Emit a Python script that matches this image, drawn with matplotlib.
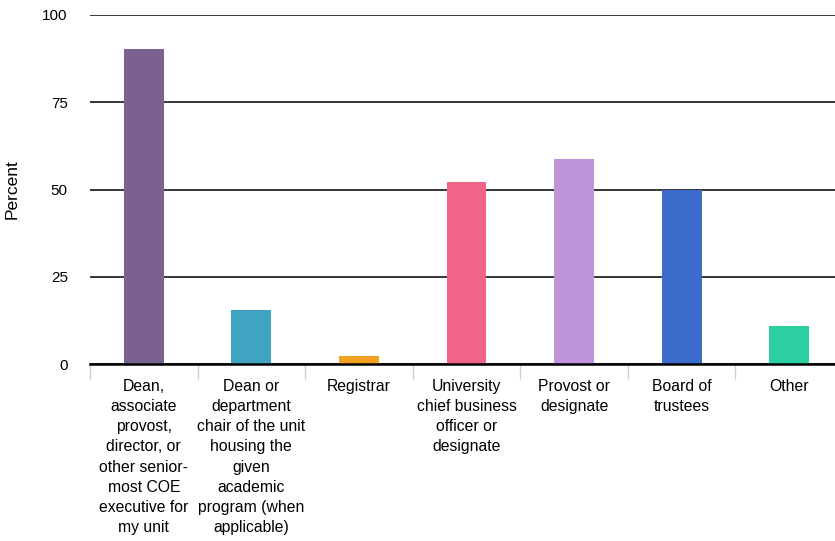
import matplotlib.pyplot as plt

categories = ["Dean,\nassociate\nprovost,\ndirector, or\nother senior-\nmost COE\nexecutive for\nmy unit",
              "Dean or\ndepartment\nchair of the unit\nhousing the\ngiven\nacademic\nprogram (when\napplicable)",
              "Registrar",
              "University\nchief business\nofficer or\ndesignate",
              "Provost or\ndesignate",
              "Board of\ntrustees",
              "Other"]
values = [90.3, 15.5, 2.3, 52.1, 58.7, 49.9, 10.9]
colors = ["#7B6190", "#41A3C3", "#F2A122", "#F06488", "#BF93D9", "#3D6DCC", "#2BCFA0"]
yticks = [0, 25, 50, 75, 100]

plt.rcParams['font.family'] = ['Liberation Sans', 'DejaVu Sans']

fig = plt.figure(figsize=(8.35, 5.41), dpi=100)
ax = fig.add_axes([90 / 835, 1 - 364 / 541, 753 / 835, 349 / 541])

x = range(len(categories))
ax.bar(x, values, width=0.37, color=colors, zorder=3)

ax.set_xlim(-0.5, len(categories) - 0.5)
ax.set_ylim(0, 100)
ax.set_yticks(yticks)
ax.set_yticklabels([str(t) for t in yticks], fontsize=11)
ax.yaxis.grid(True, color="black", linewidth=1.1, zorder=0)
ax.tick_params(axis="y", length=0, pad=16)

for s in ["top", "right", "left"]:
    ax.spines[s].set_visible(False)
ax.spines["bottom"].set_linewidth(1.8)
ax.spines["bottom"].set_zorder(4)

# category labels centered, boundary ticks at edges
ax.set_xticks([i - 0.5 for i in range(len(categories) + 1)])
ax.set_xticklabels([])
ax.tick_params(axis="x", length=11, width=1, color="#C8D0E0", direction="out")
for i, lab in enumerate(categories):
    ax.text(i, -4.3, lab, ha="center", va="top", fontsize=11.3, linespacing=1.43,
            transform=ax.transData)

ax.set_ylabel("Percent", fontsize=12.5)
ax.yaxis.set_label_coords(-0.093, 0.5)

fig.savefig("out.png", dpi=100)
